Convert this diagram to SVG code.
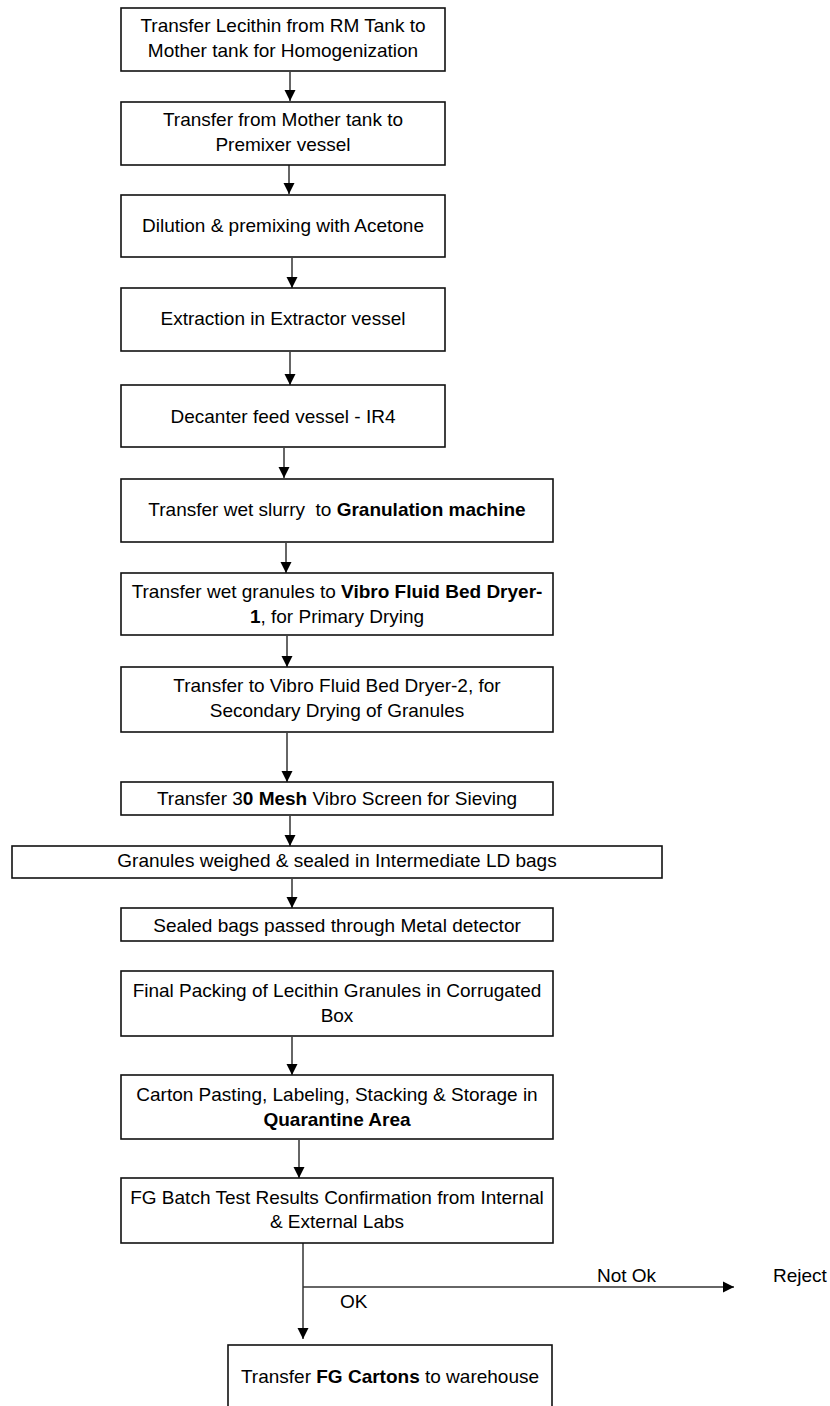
<svg xmlns="http://www.w3.org/2000/svg" width="830" height="1406" viewBox="0 0 830 1406">
<style>
.box{fill:#fff;stroke:#111;stroke-width:1.6}
.t{font-family:"Liberation Sans",Arial,sans-serif;font-size:19px;fill:#000;text-anchor:middle}
.l{font-family:"Liberation Sans",Arial,sans-serif;font-size:19px;fill:#000}
.b{font-weight:bold}
.c{stroke:#333;stroke-width:1.5;fill:none;marker-end:url(#ah)}
</style>
<defs>
<marker id="ah" markerUnits="userSpaceOnUse" markerWidth="12" markerHeight="12" refX="11" refY="6" orient="auto">
<path d="M0,0.5 L11,6 L0,11.5 Z" fill="#000"/>
</marker>
</defs>
<rect width="830" height="1406" fill="#fff"/>
<g id="connectors">
<line class="c" x1="290" y1="72" x2="290" y2="101"/>
<line class="c" x1="289" y1="165" x2="289" y2="194"/>
<line class="c" x1="292" y1="258" x2="292" y2="288"/>
<line class="c" x1="290" y1="352" x2="290" y2="385"/>
<line class="c" x1="284" y1="448" x2="284" y2="478"/>
<line class="c" x1="286" y1="543" x2="286" y2="573"/>
<line class="c" x1="287" y1="636" x2="287" y2="667"/>
<line class="c" x1="287" y1="733" x2="287" y2="782"/>
<line class="c" x1="290" y1="816" x2="290" y2="846"/>
<line class="c" x1="292" y1="879" x2="292" y2="908"/>
<line class="c" x1="292" y1="1037" x2="292" y2="1075"/>
<line class="c" x1="299" y1="1140" x2="299" y2="1178"/>
<line class="c" x1="303" y1="1243" x2="303" y2="1339"/>
<line class="c" x1="303" y1="1287" x2="734" y2="1287"/>
<text class="l" x="597" y="1282">Not Ok</text>
<text class="l" x="340" y="1308">OK</text>
</g>
<g id="n1"><rect class="box" x="121" y="8" width="324" height="63"/>
<text class="t" x="283" y="32">Transfer Lecithin from RM Tank to</text>
<text class="t" x="283" y="57">Mother tank for Homogenization</text></g>
<g id="n2"><rect class="box" x="121" y="102" width="324" height="63"/>
<text class="t" x="283" y="126">Transfer from Mother tank to</text>
<text class="t" x="283" y="151">Premixer vessel</text></g>
<g id="n3"><rect class="box" x="121" y="195" width="324" height="62"/>
<text class="t" x="283" y="232">Dilution &amp; premixing with Acetone</text></g>
<g id="n4"><rect class="box" x="121" y="288" width="324" height="63"/>
<text class="t" x="283" y="325">Extraction in Extractor vessel</text></g>
<g id="n5"><rect class="box" x="121" y="385" width="324" height="62"/>
<text class="t" x="283" y="423">Decanter feed vessel - IR4</text></g>
<g id="n6"><rect class="box" x="121" y="479" width="432" height="63"/>
<text class="t" x="337" y="516" xml:space="preserve">Transfer wet slurry  to <tspan class="b">Granulation machine</tspan></text></g>
<g id="n7"><rect class="box" x="121" y="573" width="432" height="62"/>
<text class="t" x="337" y="598">Transfer wet granules to <tspan class="b">Vibro Fluid Bed Dryer-</tspan></text>
<text class="t" x="337" y="623"><tspan class="b">1</tspan>, for Primary Drying</text></g>
<g id="n8"><rect class="box" x="121" y="667" width="432" height="65"/>
<text class="t" x="337" y="692">Transfer to Vibro Fluid Bed Dryer-2, for</text>
<text class="t" x="337" y="717">Secondary Drying of Granules</text></g>
<g id="n9"><rect class="box" x="121" y="782" width="432" height="33"/>
<text class="t" x="337" y="805">Transfer 3<tspan class="b">0 Mesh</tspan> Vibro Screen for Sieving</text></g>
<g id="n10"><rect class="box" x="12" y="846" width="650" height="32"/>
<text class="t" x="337" y="867">Granules weighed &amp; sealed in Intermediate LD bags</text></g>
<g id="n11"><rect class="box" x="121" y="908" width="432" height="33"/>
<text class="t" x="337" y="932">Sealed bags passed through Metal detector</text></g>
<g id="n12"><rect class="box" x="121" y="971" width="432" height="65"/>
<text class="t" x="337" y="997">Final Packing of Lecithin Granules in Corrugated</text>
<text class="t" x="337" y="1022">Box</text></g>
<g id="n13"><rect class="box" x="121" y="1075" width="432" height="64"/>
<text class="t" x="337" y="1101">Carton Pasting, Labeling, Stacking &amp; Storage in</text>
<text class="t b" x="337" y="1126">Quarantine Area</text></g>
<g id="n14"><rect class="box" x="121" y="1178" width="432" height="65"/>
<text class="t" x="337" y="1204">FG Batch Test Results Confirmation from Internal</text>
<text class="t" x="337" y="1228">&amp; External Labs</text></g>
<g id="n15"><rect class="box" x="228" y="1345" width="324" height="80"/>
<text class="t" x="390" y="1383">Transfer <tspan class="b">FG Cartons</tspan> to warehouse</text></g>
<g id="n16"><text class="l" x="773" y="1282">Reject</text></g>
</svg>
